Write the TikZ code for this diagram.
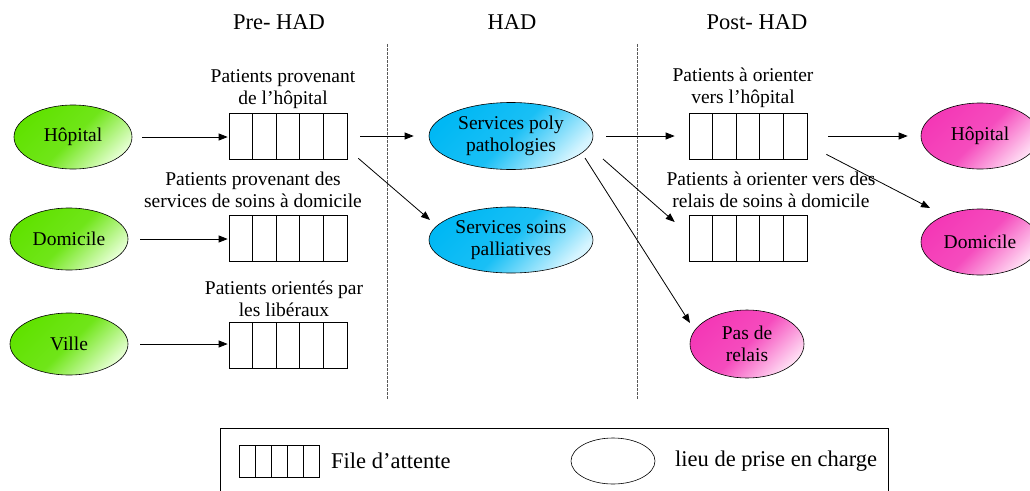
\documentclass[tikz,border=0pt]{standalone}
\usepackage{fontspec}
\setmainfont{Liberation Serif}
\usetikzlibrary{shapes.geometric,arrows.meta,calc}
\definecolor{gsat}{RGB}{96,226,0}
\definecolor{gpale}{RGB}{228,255,208}
\definecolor{bsat}{RGB}{0,184,244}
\definecolor{bpale}{RGB}{214,245,255}
\definecolor{psat}{RGB}{244,56,182}
\definecolor{ppale}{RGB}{255,222,244}
\newcommand\lblfont{\fontsize{19.5}{22}\selectfont}
\newcommand\ttlfont{\fontsize{22.5}{25}\selectfont}
\begin{document}
\begin{tikzpicture}[x=1pt,y=-1pt,
  arr/.style={-{Triangle[length=9pt,width=7pt]}, line width=0.8pt},
  place/.style={ellipse, draw, line width=0.6pt, inner sep=0pt, align=center, font=\lblfont},
  gfill/.style={top color=gsat, bottom color=gpale, middle color=gsat!88!gpale, shading angle=45},
  bfill/.style={top color=bsat, bottom color=bpale, middle color=bsat!88!bpale, shading angle=45},
  pfill/.style={top color=psat, bottom color=ppale, middle color=psat!88!ppale, shading angle=45},
  queue/.style={draw, line width=0.7pt, minimum width=118pt, minimum height=46pt, inner sep=0pt,
    path picture={\foreach \i in {1,...,4}{\draw[line width=0.7pt]
      ($(path picture bounding box.south west)!\i/5!(path picture bounding box.south east)$) --
      ($(path picture bounding box.north west)!\i/5!(path picture bounding box.north east)$);}}},
  qlabel/.style={align=center, font=\lblfont, inner sep=0pt},
  title/.style={font=\ttlfont, inner sep=0pt},
  sep/.style={dashed, dash pattern=on 2.5pt off 1.5pt, gray!70!black, line width=0.7pt},
  legtext/.style={font=\ttlfont, anchor=west, inner sep=0pt}
]
\useasboundingbox (0,0) rectangle (1030,490);
\clip (0,0) rectangle (1030,490);

% titles
\node[title] (t1) at (279,22) {Pre- HAD};
\node[title] (t2) at (512,22) {HAD};
\node[title] (t3) at (757,22) {Post- HAD};

% separators
\draw[sep] (387,44) -- (387,400);
\draw[sep] (637,44) -- (637,400);

% sources
\node[place, gfill, minimum width=118pt, minimum height=64pt] (gh) at (73,137) {Hôpital};
\node[place, gfill, minimum width=118pt, minimum height=62pt] (gd) at (69,239) {Domicile};
\node[place, gfill, minimum width=118pt, minimum height=62pt] (gv) at (69,344) {Ville};

% pre queues
\node[queue] (q1) at (288,136) {};
\node[queue] (q2) at (288,238) {};
\node[queue] (q3) at (288,345) {};
\node[qlabel] (l1) at (283,89) {Patients provenant\\de l’hôpital};
\node[qlabel] (l2) at (253,190) {Patients provenant des\\services de soins à domicile};
\node[qlabel] (l3) at (284,299) {Patients orientés par\\les libéraux};

% HAD
\node[place, bfill, minimum width=164pt, minimum height=67pt] (poly) at (511,136) {Services poly\\pathologies};
\node[place, bfill, minimum width=164pt, minimum height=66pt] (pal) at (511,240) {Services soins\\palliatives};

% post queues
\node[queue] (qa) at (748,136) {};
\node[queue] (qb) at (748,238) {};
\node[qlabel] (la) at (743,88) {Patients à orienter\\vers l’hôpital};
\node[qlabel] (lb) at (771,190) {Patients à orienter vers des\\relais de soins à domicile};

% destinations
\node[place, pfill, minimum width=118pt, minimum height=66pt] (ph) at (980,136) {Hôpital};
\node[place, pfill, minimum width=118pt, minimum height=66pt] (pd) at (980,242) {Domicile};
\node[place, pfill, minimum width=114pt, minimum height=68pt] (pr) at (747,344) {Pas de\\relais};

% arrows
\draw[arr, shorten <=10pt, shorten >=1pt] (gh.east) -- (gh.east -| q1.west);
\draw[arr, shorten <=12pt, shorten >=1pt] (gd.east) -- (gd.east -| q2.west);
\draw[arr, shorten <=12pt, shorten >=1pt] (gv.east) -- (gv.east -| q3.west);
\draw[arr, shorten <=13pt, shorten >=15pt] (q1) -- (poly);
\draw[arr] ([shift={(11,-1)}]q1.south east) -- ([shift={(-81,-20)}]pal.center);
\draw[arr, shorten <=13pt, shorten >=14pt] (poly) -- (qa);
\draw[arr] ([shift={(92,23)}]poly.center) -- ([shift={(-14,-16)}]qb.west);
\draw[arr] ([shift={(74,22)}]poly.center) -- ([shift={(-57,-21)}]pr.center);
\draw[arr, shorten <=21pt, shorten >=13pt] (qa) -- (ph);
\draw[arr] ([shift={(19,-5)}]qa.south east) -- ([shift={(-50,-34)}]pd.center);

% legend
\node[draw, line width=0.8pt, minimum width=668pt, minimum height=72pt, inner sep=0pt] (leg) at (554,464) {};
\node[queue, minimum width=80pt, minimum height=32pt] (lq) at (279,461) {};
\node[legtext] (lqt) at (331,461) {File d’attente};
\node[ellipse, draw, line width=0.6pt, minimum width=84pt, minimum height=46pt, inner sep=0pt] (le) at (613,461) {};
\node[legtext] (let) at (675,461) {lieu de prise en charge};
\end{tikzpicture}
\end{document}
